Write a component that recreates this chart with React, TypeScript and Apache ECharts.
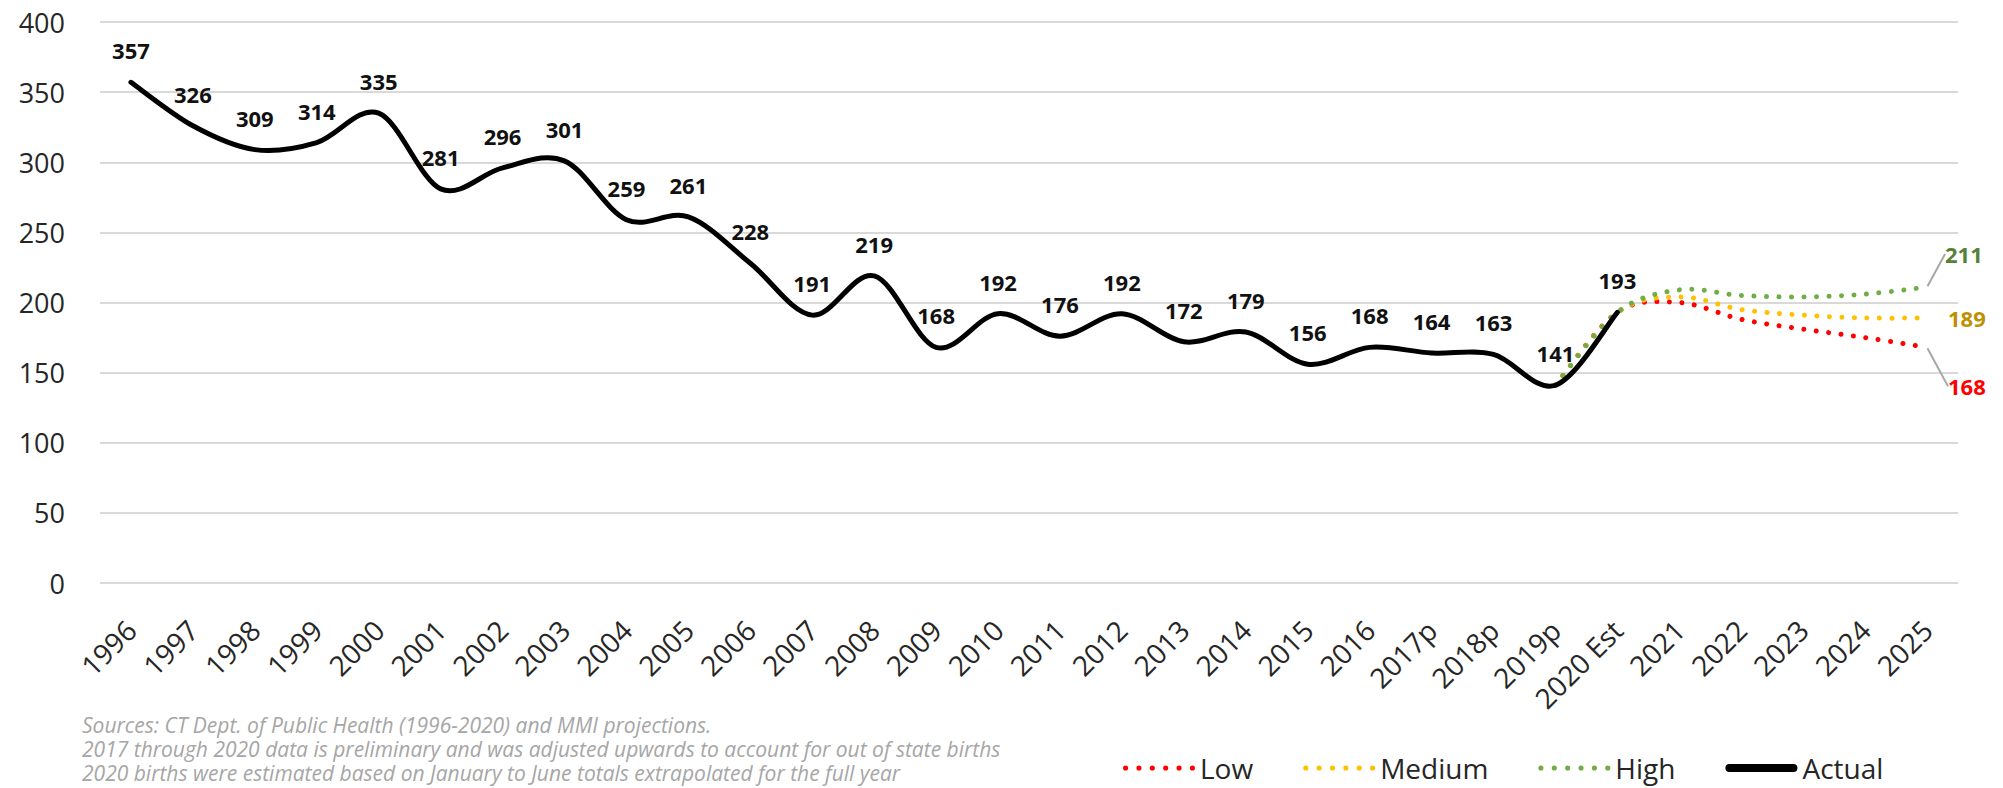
import React, { useEffect, useRef } from "react";
import * as echarts from "echarts";

const categories = [
  "1996", "1997", "1998", "1999", "2000", "2001", "2002", "2003", "2004", "2005",
  "2006", "2007", "2008", "2009", "2010", "2011", "2012", "2013", "2014", "2015",
  "2016", "2017p", "2018p", "2019p", "2020 Est", "2021", "2022", "2023", "2024", "2025",
];

const actualValues = [
  357, 326, 309, 314, 335, 281, 296, 301, 259, 261,
  228, 191, 219, 168, 192, 176, 192, 172, 179, 156,
  168, 164, 163, 141, 193, null, null, null, null, null,
];

// projections start at 2019p (index 23)
const projectionStart = 23;
const lowValues = [141, 193, 200, 188, 181, 175, 168];
const mediumValues = [141, 193, 204, 195, 191, 189, 189];
const highValues = [141, 193, 209, 205, 204, 206, 211];

const yTicks = { min: 0, max: 400, interval: 50 };

const sourceLines = [
  "Sources: CT Dept. of Public Health (1996-2020) and MMI projections.",
  "2017 through 2020 data is preliminary and was adjusted upwards to account for out of state births",
  "2020 births were estimated based on January to June totals extrapolated for the full year",
];

const FONT = "'Open Sans', 'Noto Sans', sans-serif";

function padProjection(vals: number[]) {
  const out: (number | null)[] = [];
  for (let i = 0; i < projectionStart; i++) out.push(null);
  vals.forEach((v) => out.push(v));
  return out;
}

// Catmull-Rom style smoothing (similar to spreadsheet smoothed lines)
function smoothPath(pts: number[][], t = 1 / 6) {
  let d = `M${pts[0][0]},${pts[0][1]}`;
  for (let i = 0; i < pts.length - 1; i++) {
    const p0 = pts[Math.max(i - 1, 0)];
    const p1 = pts[i];
    const p2 = pts[i + 1];
    const p3 = pts[Math.min(i + 2, pts.length - 1)];
    const c1x = p1[0] + (p2[0] - p0[0]) * t;
    const c1y = p1[1] + (p2[1] - p0[1]) * t;
    const c2x = p2[0] - (p3[0] - p1[0]) * t;
    const c2y = p2[1] - (p3[1] - p1[1]) * t;
    d += ` C${c1x},${c1y} ${c2x},${c2y} ${p2[0]},${p2[1]}`;
  }
  return d;
}

function curveSeries(
  name: string,
  values: (number | null)[],
  color: string,
  width: number,
  dash: number[] | null,
  z: number
) {
  const idx = values.map((v, i) => (v == null ? -1 : i)).filter((i) => i >= 0);
  return {
    name,
    type: "custom",
    z,
    silent: true,
    itemStyle: { color },
    data: idx.map((i) => [i, values[i]]),
    encode: { x: 0, y: 1 },
    renderItem: (params: any, api: any) => {
      if (params.dataIndex !== 0) return null;
      const pts = idx.map((i) => api.coord([i, values[i] as number]));
      return {
        type: "path",
        shape: { pathData: smoothPath(pts) },
        style: {
          fill: "none",
          stroke: color,
          lineWidth: width,
          lineDash: dash || undefined,
          lineCap: "round",
          lineJoin: "round",
        },
      };
    },
  };
}

function labelSeries(
  name: string,
  values: (number | null)[],
  labelColor: string,
  lastOnly: boolean,
  dx: number,
  dy: number,
  showLine: boolean
) {
  const last = values.length - 1;
  const data = values.map((v, i) =>
    lastOnly && i === last
      ? {
          value: v,
          label: {
            show: true,
            position: "right",
            distance: 20,
            color: labelColor,
          },
          labelLine: {
            show: showLine,
            lineStyle: { color: "#A6A6A6", width: 2 },
          },
        }
      : v
  );
  return {
    name,
    type: "line",
    data,
    symbol: "circle",
    symbolSize: 2,
    itemStyle: { color: "transparent", borderWidth: 0, borderColor: "transparent" },
    lineStyle: { width: 0, opacity: 0 },
    label: {
      show: !lastOnly,
      position: "top",
      distance: 20,
      color: labelColor,
      fontSize: 22,
      fontWeight: "bold",
      fontFamily: FONT,
    },
    labelLayout: lastOnly ? { dx, dy } : undefined,
    emphasis: { disabled: true },
    silent: true,
    z: 5,
  };
}

function dotsIcon(n: number, r: number, gap: number) {
  let d = "path://";
  for (let k = 0; k < n; k++) {
    const cx = r + k * gap;
    d += `M${cx - r},${r}a${r},${r} 0 1,0 ${2 * r},0a${r},${r} 0 1,0 ${-2 * r},0Z`;
  }
  return d;
}

const actualIcon = "path://M4,0H69A4,4 0 0 1 69,8H4A4,4 0 0 1 4,0Z";

export default function App() {
  const ref = useRef<HTMLDivElement>(null);

  useEffect(() => {
    if (!ref.current) return;
    const chart = echarts.init(ref.current, null, { renderer: "svg" });

    const low = padProjection(lowValues);
    const medium = padProjection(mediumValues);
    const high = padProjection(highValues);
    const dots = dotsIcon(6, 2.5, 13);

    const option: any = {
      animation: false,
      backgroundColor: "#ffffff",
      grid: { left: 100, right: 45, top: 22, bottom: 205, containLabel: false },
      legend: {
        left: 1118,
        top: 749,
        itemWidth: 72,
        itemHeight: 10,
        itemGap: 50,
        textStyle: { fontSize: 28, color: "#262626", fontFamily: FONT },
        data: [
          { name: "Low", icon: dots, itemStyle: { color: "#FF0000", borderWidth: 0 } },
          { name: "Medium", icon: dots, itemStyle: { color: "#FFC000", borderWidth: 0 } },
          { name: "High", icon: dots, itemStyle: { color: "#70AD47", borderWidth: 0 } },
          { name: "Actual", icon: actualIcon, itemStyle: { color: "#000000", borderWidth: 0 } },
        ],
      },
      xAxis: {
        type: "category",
        data: categories,
        boundaryGap: true,
        axisLine: { show: false },
        axisTick: { show: false },
        axisLabel: {
          rotate: 45,
          margin: 42,
          fontSize: 28,
          color: "#262626",
          fontFamily: FONT,
          interval: 0,
        },
      },
      yAxis: {
        type: "value",
        min: yTicks.min,
        max: yTicks.max,
        interval: yTicks.interval,
        axisLine: { show: false },
        axisTick: { show: false },
        axisLabel: { fontSize: 27, color: "#262626", fontFamily: FONT, margin: 35 },
        splitLine: { lineStyle: { color: "#D9D9D9", width: 2 } },
      },
      series: [
        curveSeries("Low", low, "#FF0000", 5, [0.01, 12.5], 2),
        curveSeries("Medium", medium, "#FFC000", 5, [0.01, 12.5], 2),
        curveSeries("High", high, "#70AD47", 5, [0.01, 12.5], 2),
        curveSeries("Actual", actualValues, "#000000", 5, null, 3),
        labelSeries("Low", low, "#FF0000", true, 0, 39, true),
        labelSeries("Medium", medium, "#BF9000", true, 0, 0, false),
        labelSeries("High", high, "#548235", true, -3, -33, true),
        labelSeries("Actual", actualValues, "#111111", false, 0, 0, false),
      ],
      graphic: sourceLines.map((t, i) => ({
        type: "text",
        left: 82,
        top: 714 + i * 24,
        silent: true,
        style: {
          text: t,
          fill: "#A6A6A6",
          fontSize: 21,
          fontStyle: "italic",
          fontFamily: FONT,
        },
      })),
    };

    chart.setOption(option);
    return () => chart.dispose();
  }, []);

  return (
    <div
      ref={ref}
      style={{ position: "absolute", left: 0, top: 0, width: "2003px", height: "788px" }}
    />
  );
}
